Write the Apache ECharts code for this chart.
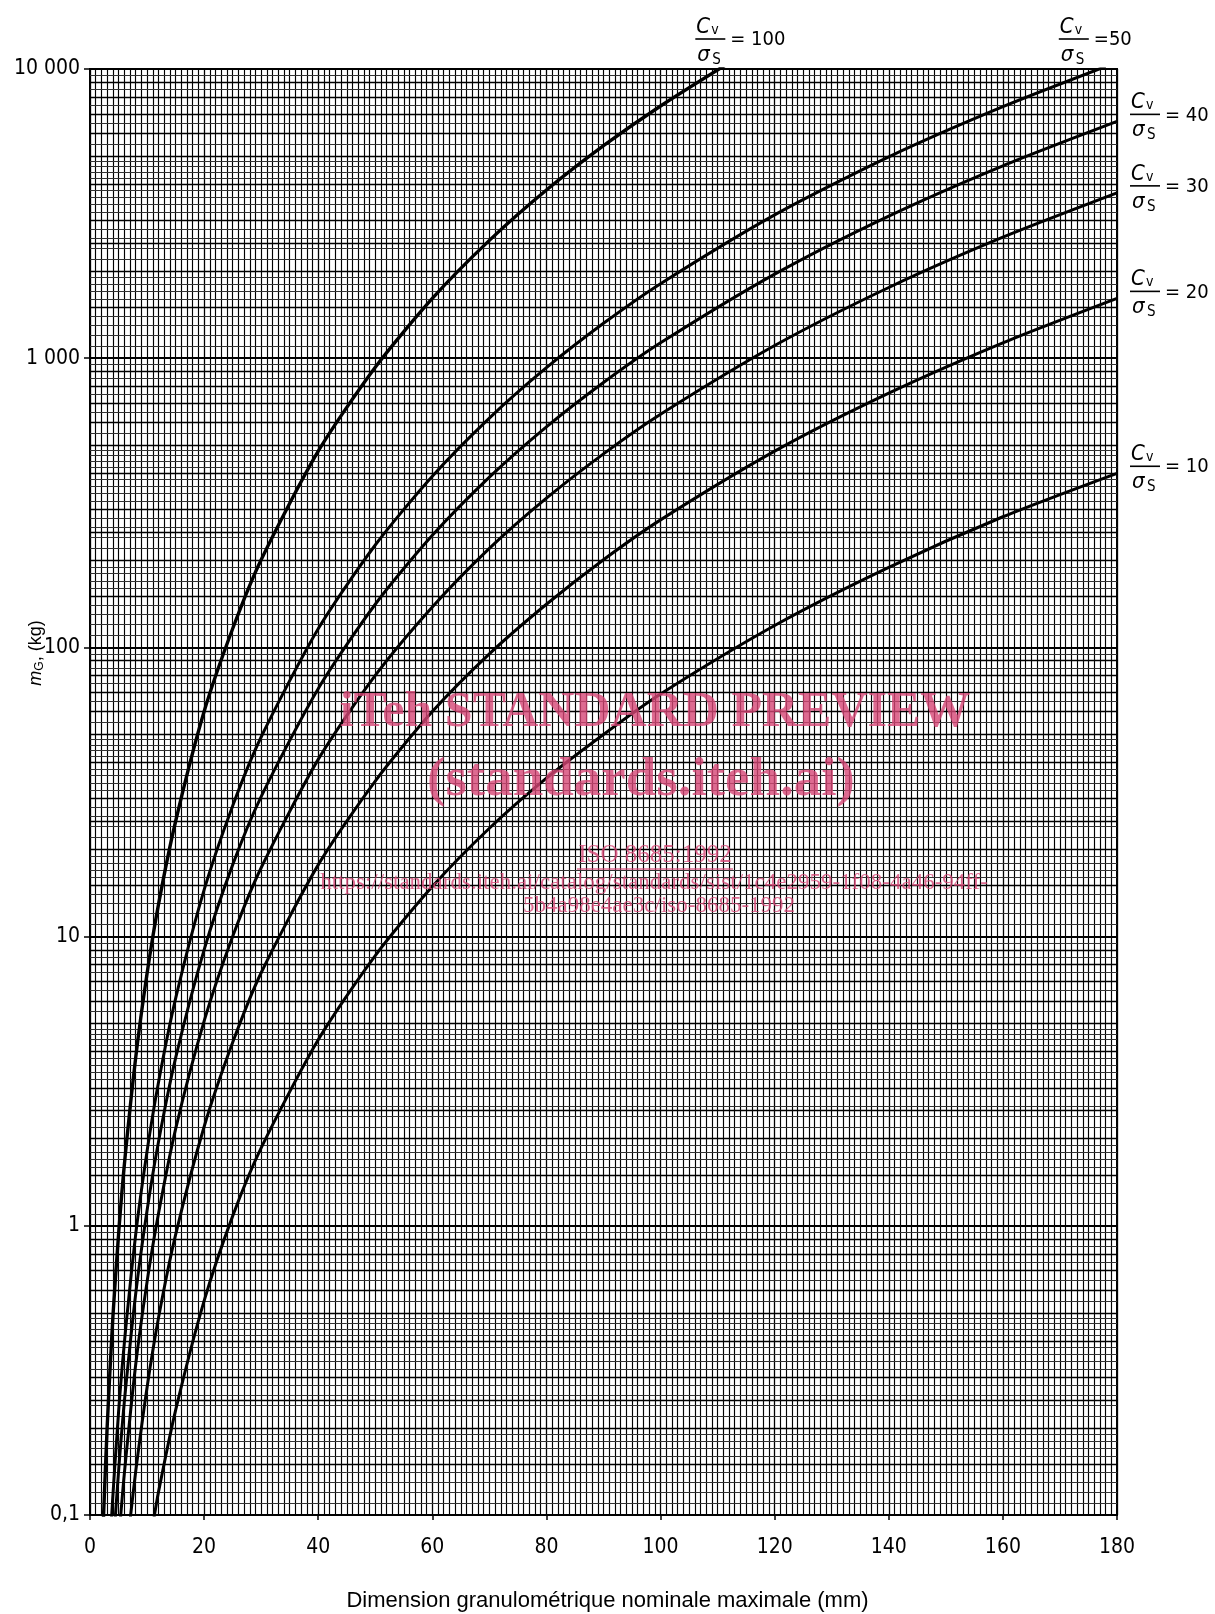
<!DOCTYPE html>
<html>
<head>
<meta charset="utf-8">
<script src="https://cdn.jsdelivr.net/npm/echarts@6/dist/echarts.min.js"></script>
<style>html,body{margin:0;padding:0;background:#fff;}#main{width:1215px;height:1614px;}</style>
</head>
<body>
<div id="main"></div>
<script>
// ---- Data (x: mm, y: kg) ----
const xTicks = [0, 20, 40, 60, 80, 100, 120, 140, 160, 180];
const yTickLabels = {'-1': '0,1', '0': '1', '1': '10', '2': '100', '3': '1 000', '4': '10 000'};
const ratios = [100, 50, 40, 30, 20, 10];

const d100 = [2.3, 3, 4, 5, 6, 8, 10, 12, 15, 20, 25, 30, 40, 50, 60, 70, 80, 90, 100, 112];
const m100 = [0.091, 0.2, 0.48, 0.93, 1.61, 3.8, 7.45, 12.9, 25, 60, 116, 201, 477, 931, 1610, 2555, 3814, 5430, 7450, 10500];

const d50 = [3.7, 4, 5, 6, 8, 10, 12, 15, 20, 25, 30, 40, 50, 60, 70, 80, 90, 100, 120, 140, 160, 178];
const m50 = [0.092, 0.116, 0.226, 0.39, 0.93, 1.81, 3.13, 6.1, 14.5, 28.3, 49, 116, 226, 391, 621, 927, 1320, 1810, 3130, 4970, 7410, 10200];

const d40 = [4.4, 5, 6, 8, 10, 12, 15, 20, 25, 30, 40, 50, 60, 70, 80, 90, 100, 120, 140, 160, 180];
const m40 = [0.096, 0.141, 0.244, 0.58, 1.13, 1.95, 3.8, 9.0, 17.7, 30.5, 72, 141, 244, 388, 579, 824, 1130, 1953, 3101, 4628, 6590];

const d30 = [5.3, 6, 8, 10, 12, 15, 20, 25, 30, 40, 50, 60, 70, 80, 90, 100, 120, 140, 160, 180];
const m30 = [0.095, 0.138, 0.33, 0.64, 1.1, 2.16, 5.1, 10, 17.3, 41, 80, 138, 220, 328, 467, 640, 1106, 1756, 2621, 3730];

const d20 = [7, 8, 10, 12, 15, 20, 25, 30, 40, 50, 60, 70, 80, 90, 100, 120, 140, 160, 180];
const m20 = [0.095, 0.141, 0.276, 0.48, 0.93, 2.2, 4.3, 7.5, 17.7, 34.5, 60, 95, 141, 201, 276, 477, 757, 1130, 1610];

const d10 = [11, 12, 15, 20, 25, 30, 40, 50, 60, 70, 80, 90, 100, 120, 140, 160, 180];
const m10 = [0.092, 0.12, 0.23, 0.55, 1.08, 1.86, 4.4, 8.6, 14.9, 23.7, 35.3, 50, 69, 119, 189, 283, 400];

// label anchor points (near where each curve leaves the frame)
const labelAnchors = {100: [110.3, 10000], 50: [170.5, 10000], 40: [180, 6590], 30: [180, 3730], 20: [180, 1610], 10: [180, 400]};

// ---- Log-paper horizontal rulings ----
const heavyMult = [1.5, 2, 2.5, 3, 4, 5, 6, 7, 8, 9];
const lightMult = [1.1, 1.2, 1.3, 1.4, 1.6, 1.7, 1.8, 1.9, 2.2, 2.4, 2.6, 2.8, 3.2, 3.4, 3.6, 3.8, 4.2, 4.4, 4.6, 4.8, 5.5, 6.5, 7.5, 8.5, 9.5];
const decades = [0.1, 1, 10, 100, 1000];

const heavyLines = [], lightLines = [];
decades.forEach(b => {
  heavyMult.forEach(m => heavyLines.push({yAxis: +(m * b).toPrecision(6)}));
  lightMult.forEach(m => lightLines.push({yAxis: +(m * b).toPrecision(6)}));
});

const chart = echarts.init(document.getElementById('main'));
const curve = (name, xs, ys, w) => ({
  name, type: 'line', data: xs.map((x, i) => [x, ys[i]]), showSymbol: false, smooth: 0.25,
  clip: true, silent: true, z: 10, lineStyle: {color: '#000', width: w}
});
const rule = (lines, color, width) => ({
  type: 'line', data: [[0, 1]], showSymbol: false, lineStyle: {width: 0, opacity: 0}, silent: true, z: 1,
  markLine: {silent: true, symbol: ['none', 'none'], animation: false, label: {show: false},
    lineStyle: {color, width, type: 'solid'}, emphasis: {disabled: true}, data: lines}
});

const tickFont = "'Liberation Sans Narrow','DejaVu Sans Condensed',sans-serif";

chart.setOption({
  animation: false,
  backgroundColor: '#fff',
  grid: {left: 90, right: 98, top: 69, bottom: 99, show: true, borderColor: '#000', borderWidth: 2, backgroundColor: 'transparent'},
  xAxis: {
    type: 'value', min: 0, max: 180, interval: 20,
    axisLine: {show: true, lineStyle: {color: '#000', width: 2}},
    axisTick: {show: true, length: 5, lineStyle: {color: '#000', width: 1.5}},
    axisLabel: {color: '#000', fontSize: 21, margin: 22, fontFamily: tickFont},
    splitLine: {show: true, lineStyle: {color: '#000', width: 1.3}},
    minorTick: {show: false, splitNumber: 20},
    minorSplitLine: {show: true, lineStyle: {color: '#000', width: 1.15}}
  },
  yAxis: {
    type: 'log', logBase: 10, min: 0.1, max: 10000,
    axisLine: {show: true, lineStyle: {color: '#000', width: 2}},
    axisTick: {show: true, length: 6, lineStyle: {color: '#000', width: 1.5}},
    axisLabel: {color: '#000', fontSize: 21, margin: 10, fontFamily: tickFont,
      formatter: v => yTickLabels[String(Math.round(Math.log10(v)))] || ''},
    splitLine: {show: true, lineStyle: {color: '#000', width: 1.8}}
  },
  series: [
    rule(lightLines, '#333', 1),
    rule(heavyLines, '#000', 1.4),
    curve('100', d100, m100, 3.4),
    curve('50', d50, m50, 3),
    curve('40', d40, m40, 3),
    curve('30', d30, m30, 3),
    curve('20', d20, m20, 3),
    curve('10', d10, m10, 3)
  ]
});

// ---- Curve labels (fractions Cv / σS = n) placed from data coordinates ----
function fraction(x, y, n) {
  const f = "'DejaVu Sans Condensed','Liberation Sans',sans-serif";
  const eq = (n === 50) ? '=50' : '= ' + n;
  return {
    type: 'group', x, y, z: 50, silent: true,
    children: [
      {type: 'text', x: 1, y: -12, style: {text: 'C', font: 'italic 22px ' + f, fill: '#000', textVerticalAlign: 'middle'}},
      {type: 'text', x: 16, y: -9, style: {text: 'v', font: '14px ' + f, fill: '#000', textVerticalAlign: 'middle'}},
      {type: 'line', shape: {x1: 0, y1: 0, x2: 30, y2: 0}, style: {stroke: '#000', lineWidth: 1.6}},
      {type: 'text', x: 2, y: 16, style: {text: 'σ', font: 'italic 22px ' + f, fill: '#000', textVerticalAlign: 'middle'}},
      {type: 'text', x: 17, y: 21, style: {text: 'S', font: '15px ' + f, fill: '#000', textVerticalAlign: 'middle'}},
      {type: 'text', x: 35, y: 1, style: {text: eq, font: '20px ' + f, fill: '#000', textVerticalAlign: 'middle'}}
    ]
  };
}

const rect = chart.getModel().getComponent('grid').coordinateSystem.getRect();
const graphics = [];
ratios.forEach(n => {
  const p = chart.convertToPixel({gridIndex: 0}, labelAnchors[n]);
  if (n === 100) graphics.push(fraction(p[0] - 24, rect.y - 30, n));
  else if (n === 50) graphics.push(fraction(p[0] - 4, rect.y - 30, n));
  else graphics.push(fraction(rect.x + rect.width + 13, p[1] - 7, n));
});

// axis titles
graphics.push({
  type: 'text', x: 36, y: 653, rotation: Math.PI / 2, z: 50, silent: true,
  style: {
    text: '{m|m}{g|G}{t|, (kg)}', textAlign: 'center', textVerticalAlign: 'middle',
    rich: {
      m: {font: "italic 18px 'Liberation Sans',sans-serif", fill: '#000'},
      g: {font: "12px 'Liberation Sans',sans-serif", fill: '#000', padding: [8, 0, 0, 0]},
      t: {font: "18px 'Liberation Sans',sans-serif", fill: '#000'}
    }
  }
});
graphics.push({
  type: 'text', x: rect.x + rect.width / 2 + 4, y: 1601, z: 50, silent: true,
  style: {text: 'Dimension granulométrique nominale maximale (mm)', font: "22px 'Liberation Sans',sans-serif",
    fill: '#000', textAlign: 'center', textVerticalAlign: 'middle'}
});

// watermark
const wm = 'rgba(214,70,118,0.8)';
const serif = "'Liberation Serif','DejaVu Serif',serif";
graphics.push(
  {type: 'text', x: 655, y: 713, z: 60, silent: true, style: {text: 'iTeh STANDARD PREVIEW', font: 'bold 50px ' + serif, fill: wm, textAlign: 'center', textVerticalAlign: 'middle'}},
  {type: 'text', x: 641, y: 781, z: 60, silent: true, style: {text: '(standards.iteh.ai)', font: 'bold 55px ' + serif, fill: wm, textAlign: 'center', textVerticalAlign: 'middle'}},
  {type: 'text', x: 655, y: 855, z: 60, silent: true, style: {text: 'ISO 8685:1992', font: '25px ' + serif, fill: wm, textAlign: 'center', textVerticalAlign: 'middle'}},
  {type: 'line', z: 60, silent: true, shape: {x1: 577, y1: 869, x2: 733, y2: 869}, style: {stroke: wm, lineWidth: 1.3}},
  {type: 'text', x: 654, y: 883, z: 60, silent: true, style: {text: 'https://standards.iteh.ai/catalog/standards/sist/1c4e2959-1f08-4a46-94ff-', font: '23px ' + serif, fill: wm, textAlign: 'center', textVerticalAlign: 'middle'}},
  {type: 'text', x: 659, y: 906, z: 60, silent: true, style: {text: '5b4a98e4ae3c/iso-8685-1992', font: '23px ' + serif, fill: wm, textAlign: 'center', textVerticalAlign: 'middle'}}
);

chart.setOption({graphic: graphics});
</script>
</body>
</html>
